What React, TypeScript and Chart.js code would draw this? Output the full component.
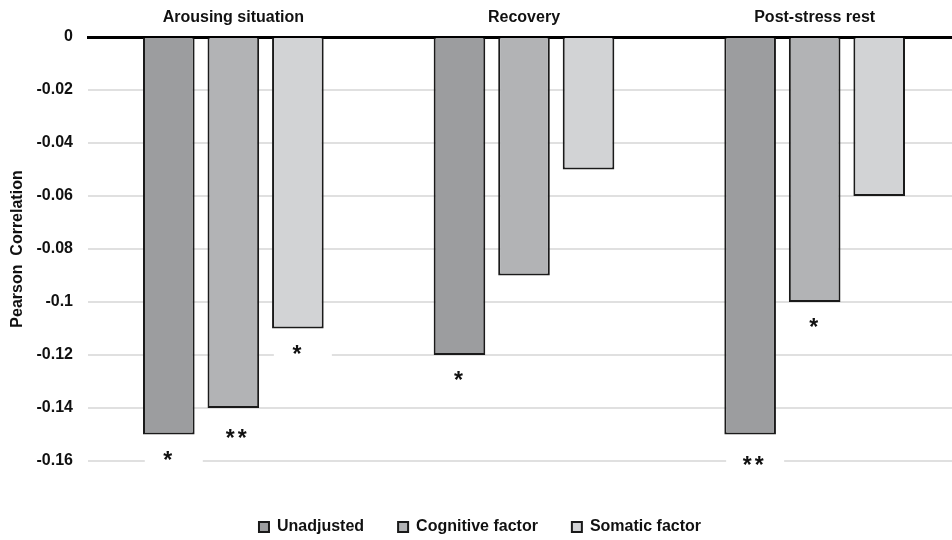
import React, { useEffect, useRef } from 'react';
import { Chart, registerables } from 'chart.js';

Chart.register(...registerables);

const categories = ['Arousing situation', 'Recovery', 'Post-stress rest'];
const seriesNames = ['Unadjusted', 'Cognitive factor', 'Somatic factor'];
const unadjusted = [-0.15, -0.12, -0.15];
const cognitive = [-0.14, -0.09, -0.1];
const somatic = [-0.11, -0.05, -0.06];
const unadjustedStars = ['*', '*', '**'];
const cognitiveStars = ['**', '', '*'];
const somaticStars = ['*', '', ''];
const yMin = -0.16;
const yMax = 0;
const yStep = 0.02;
const yTitle = 'Pearson  Correlation';

const seriesColors = ['#9c9d9f', '#b2b3b5', '#d2d3d5'];

const FONT = "'Liberation Sans', Arial, sans-serif";

const starsPlugin = {
  id: 'stars',
  afterDatasetsDraw(chart: any) {
    const ctx = chart.ctx;
    ctx.save();
    chart.data.datasets.forEach((ds: any, di: number) => {
      const meta = chart.getDatasetMeta(di);
      (ds.stars || []).forEach((s: string, i: number) => {
        if (!s) return;
        const el = meta.data[i];
        const x = el.x;
        const yEnd = el.y;
        ctx.fillStyle = '#ffffff';
        ctx.fillRect(x + 5 - 29, yEnd + 4, 58, 30);
        ctx.fillStyle = '#111111';
        ctx.font = "bold 23px 'Liberation Sans', Arial, sans-serif";
        ctx.textAlign = 'center';
        ctx.textBaseline = 'middle';
        const chars = s.split('');
        const gap = 12;
        const multi = chars.length > 1;
        const x0 = x + (multi ? 3 : -1) - ((chars.length - 1) * gap) / 2;
        const ty = yEnd + (multi ? 32 : 27);
        chars.forEach((c, k) => ctx.fillText(c, x0 + k * gap, ty));
      });
    });
    ctx.restore();
  },
};

export default function App() {
  const ref = useRef<HTMLCanvasElement | null>(null);

  useEffect(() => {
    if (!ref.current) return;
    const starSets = [unadjustedStars, cognitiveStars, somaticStars];
    const values = [unadjusted, cognitive, somatic];
    const chart = new Chart(ref.current, {
      type: 'bar',
      data: {
        labels: categories,
        datasets: seriesNames.map((name, i) => ({
          label: name,
          data: values[i],
          backgroundColor: seriesColors[i],
          borderColor: '#1a1a1a',
          borderWidth: 2,
          categoryPercentage: 0.666,
          barPercentage: 0.8,
          stars: starSets[i],
        })) as any,
      },
      options: {
        responsive: false,
        animation: false,
        layout: { padding: { left: 0, right: 10, top: 0, bottom: 0 } },
        plugins: {
          legend: {
            position: 'bottom',
            labels: {
              boxWidth: 10,
              boxHeight: 10,
              padding: 34,
              color: '#111111',
              font: { family: FONT, size: 16, weight: 'bold' },
            },
          },
          tooltip: { enabled: false },
        },
        scales: {
          x: {
            position: 'top',
            grid: { display: false, drawTicks: false },
            border: { display: true, color: '#000000', width: 3 },
            ticks: {
              color: '#111111',
              padding: 10,
              font: { family: FONT, size: 16, weight: 'bold' },
            },
            afterFit: (scale: any) => {
              scale.height = 37;
            },
          },
          x2: {
            type: 'category',
            position: 'bottom',
            display: true,
            grid: { display: false, drawTicks: false },
            border: { display: false },
            ticks: { display: false },
            afterFit: (scale: any) => {
              scale.height = 24;
            },
          },
          y: {
            min: yMin,
            max: yMax,
            grid: {
              drawTicks: false,
              lineWidth: 2,
              color: (c: any) => (c.tick && c.tick.value === 0 ? 'rgba(0,0,0,0)' : '#e0e0e0'),
            },
            border: { display: false },
            ticks: {
              stepSize: yStep,
              padding: 15,
              color: '#111111',
              font: { family: FONT, size: 16, weight: 'bold' },
              callback: (v: any) => String(Number(Number(v).toFixed(2))),
            },
            title: {
              display: true,
              text: yTitle,
              color: '#111111',
              padding: { top: 8, bottom: 0 },
              font: { family: FONT, size: 16, weight: 'bold' },
            },
            afterFit: (scale: any) => {
              scale.width = 88;
            },
          },
        },
      } as any,
      plugins: [starsPlugin],
    });
    return () => chart.destroy();
  }, []);

  return (
    <div
      style={{
        position: 'fixed',
        left: 0,
        top: 0,
        width: 952,
        height: 540,
        overflow: 'hidden',
        background: '#ffffff',
      }}
    >
      <canvas ref={ref} width={970} height={545} style={{ width: 970, height: 545, display: 'block' }} />
    </div>
  );
}
